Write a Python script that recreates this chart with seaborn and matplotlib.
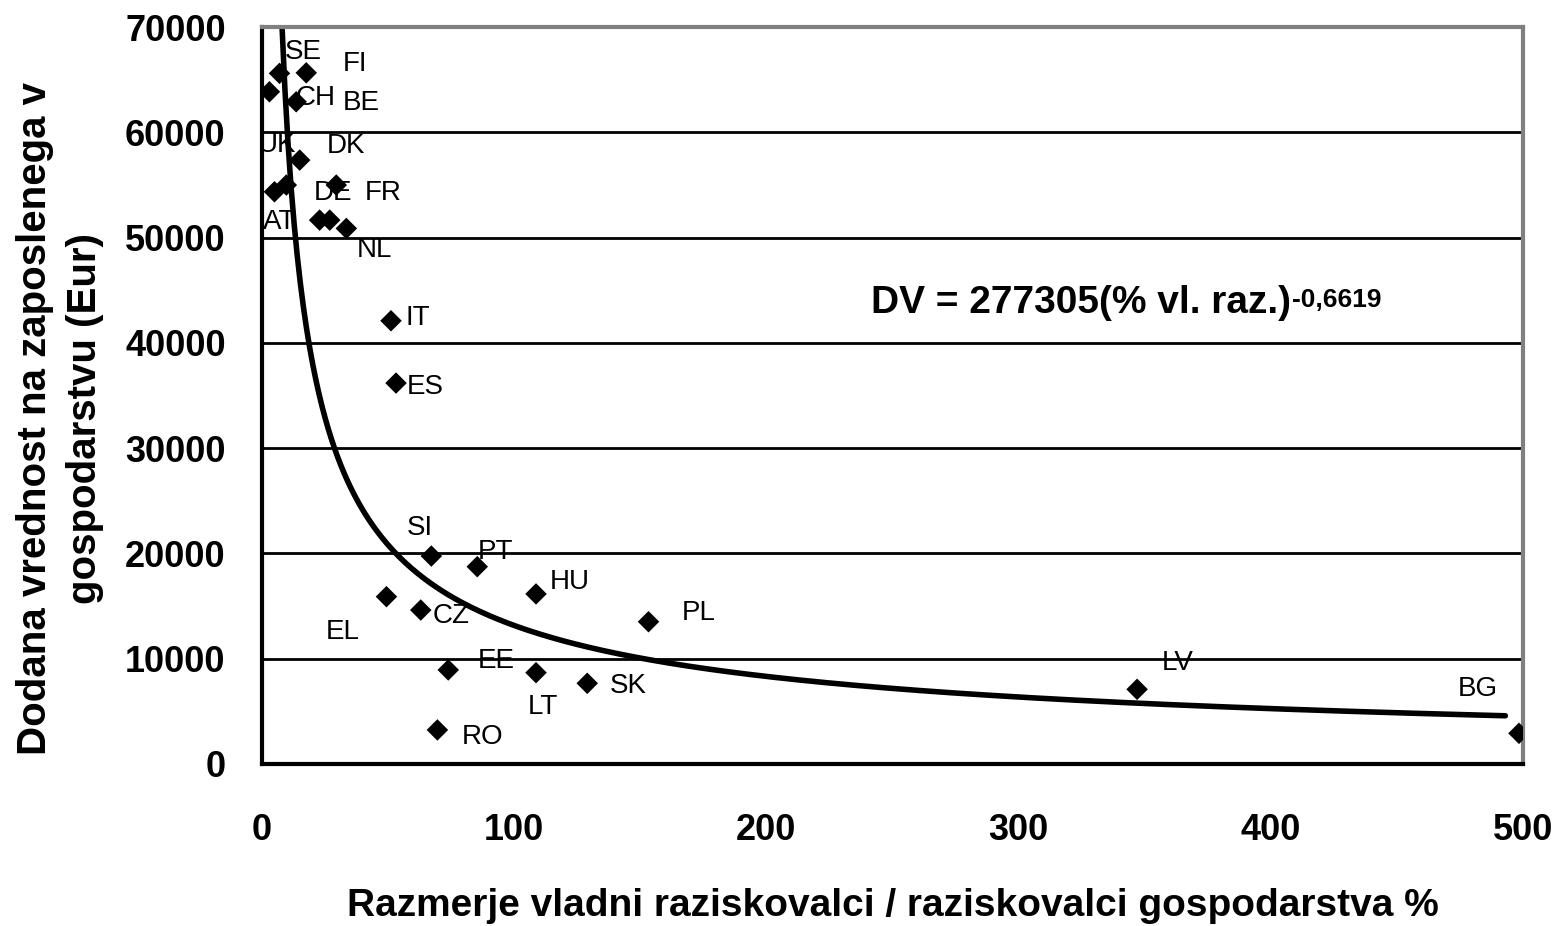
import matplotlib
matplotlib.use("Agg")
import matplotlib.pyplot as plt
import numpy as np
import pandas as pd
import seaborn as sns

# ratio of government researchers to business researchers (%), value added per employee (EUR)
countries = ["SE", "FI", None, "CH", "DK", "UK", "AT", "FR", "DE", "BE", "NL",
             "IT", "ES", "SI", "PT", "HU", "EL", "CZ", "PL", "EE", "LT", "SK", "RO", "LV", "BG"]
ratio = [7.0, 17.6, 3.0, 13.6, 15.0, 5.0, 9.7, 29.5, 22.9, 26.9, 33.5,
         51.2, 53.2, 67.2, 85.4, 108.7, 49.4, 63.0, 153.3, 73.9, 108.7, 129.0, 69.6, 347.0, 498.4]
value_added = [65600, 65650, 63850, 62900, 57360, 54350, 54990, 54990, 51660, 51660, 50870,
               42100, 36180, 19750, 18740, 16150, 15890, 14620, 13510, 8930, 8670, 7660, 3230, 7090, 2910]

# label anchor positions as they sit on the chart (data units)
label_x = [16.3, 36.9, None, 21.4, 33.3, 5.9, 7.0, 48.0, 28.2, 39.3, 44.8,
           61.9, 64.7, 62.7, 92.5, 122.0, 32.2, 75.2, 173.1, 92.9, 111.6, 145.4, 87.7, 363.0, 481.9]
label_y = [67600, 66500, None, 63300, 58700, 58800, 51500, 54200, 54200, 62800, 48800,
           42400, 35800, 22400, 20100, 17300, 12500, 14100, 14300, 9800, 5400, 7400, 2600, 9600, 7100]

# power trend line shown on the chart: DV = a * x^b
trend_a = 277305
trend_b = -0.6619
trend_text = "DV = 277305(% vl. raz.)"
trend_exp = "-0,6619"

df = pd.DataFrame({"ratio": ratio, "value_added": value_added})

sns.set_style("white")
plt.rcParams["font.family"] = ["Liberation Sans", "DejaVu Sans"]
plt.rcParams["text.color"] = "black"
plt.rcParams["axes.labelcolor"] = "black"
plt.rcParams["xtick.color"] = "black"
plt.rcParams["ytick.color"] = "black"

fig = plt.figure(figsize=(15.68, 9.26), dpi=100)
ax = fig.add_axes([0.167, 0.175, 0.8043, 0.7958])

for v in range(10000, 70000, 10000):
    ax.axhline(v, color="black", lw=2, zorder=1)

xs = np.linspace(min(ratio), 493, 400)
ax.plot(xs, trend_a * xs ** trend_b, color="black", lw=4, zorder=2)

sns.scatterplot(data=df, x="ratio", y="value_added", marker="D", s=120,
                color="black", edgecolor="none", ax=ax, zorder=3)

for name, lx, ly in zip(countries, label_x, label_y):
    if name is None:
        continue
    ax.text(lx, ly, name, fontsize=20, ha="center", va="center", zorder=4)

eq = ax.text(241.5, 42800, trend_text, fontsize=28, fontweight="bold",
             va="baseline", ha="left")
ax.annotate(trend_exp, xy=(1.0, 1.0), xycoords=eq, xytext=(1, -2),
            textcoords="offset points", fontsize=19, fontweight="bold",
            ha="left", va="top")

ax.set_xlim(0, 500)
ax.set_ylim(0, 70000)
ax.set_xticks(range(0, 501, 100))
ax.set_yticks(range(0, 70001, 10000))
ax.tick_params(axis="both", which="major", labelsize=26, length=10, width=2,
               direction="out", color="black", labelcolor="black")
ax.tick_params(axis="y", pad=16)
ax.tick_params(axis="x", pad=25)
for lab in ax.get_xticklabels() + ax.get_yticklabels():
    lab.set_fontweight("bold")

ax.set_xlabel("Razmerje vladni raziskovalci / raziskovalci gospodarstva %",
              fontsize=28, fontweight="bold", labelpad=29)
ax.set_ylabel("Dodana vrednost na zaposlenega v\ngospodarstvu (Eur)",
              fontsize=29, fontweight="bold", linespacing=1.4)
ax.yaxis.set_label_coords(-0.125, 0.469)

ax.spines["left"].set_color("black")
ax.spines["bottom"].set_color("black")
ax.spines["left"].set_linewidth(3)
ax.spines["bottom"].set_linewidth(3)
ax.spines["top"].set_color("#808080")
ax.spines["right"].set_color("#808080")
ax.spines["top"].set_linewidth(3)
ax.spines["right"].set_linewidth(3)

fig.savefig("out.png", dpi=100)
